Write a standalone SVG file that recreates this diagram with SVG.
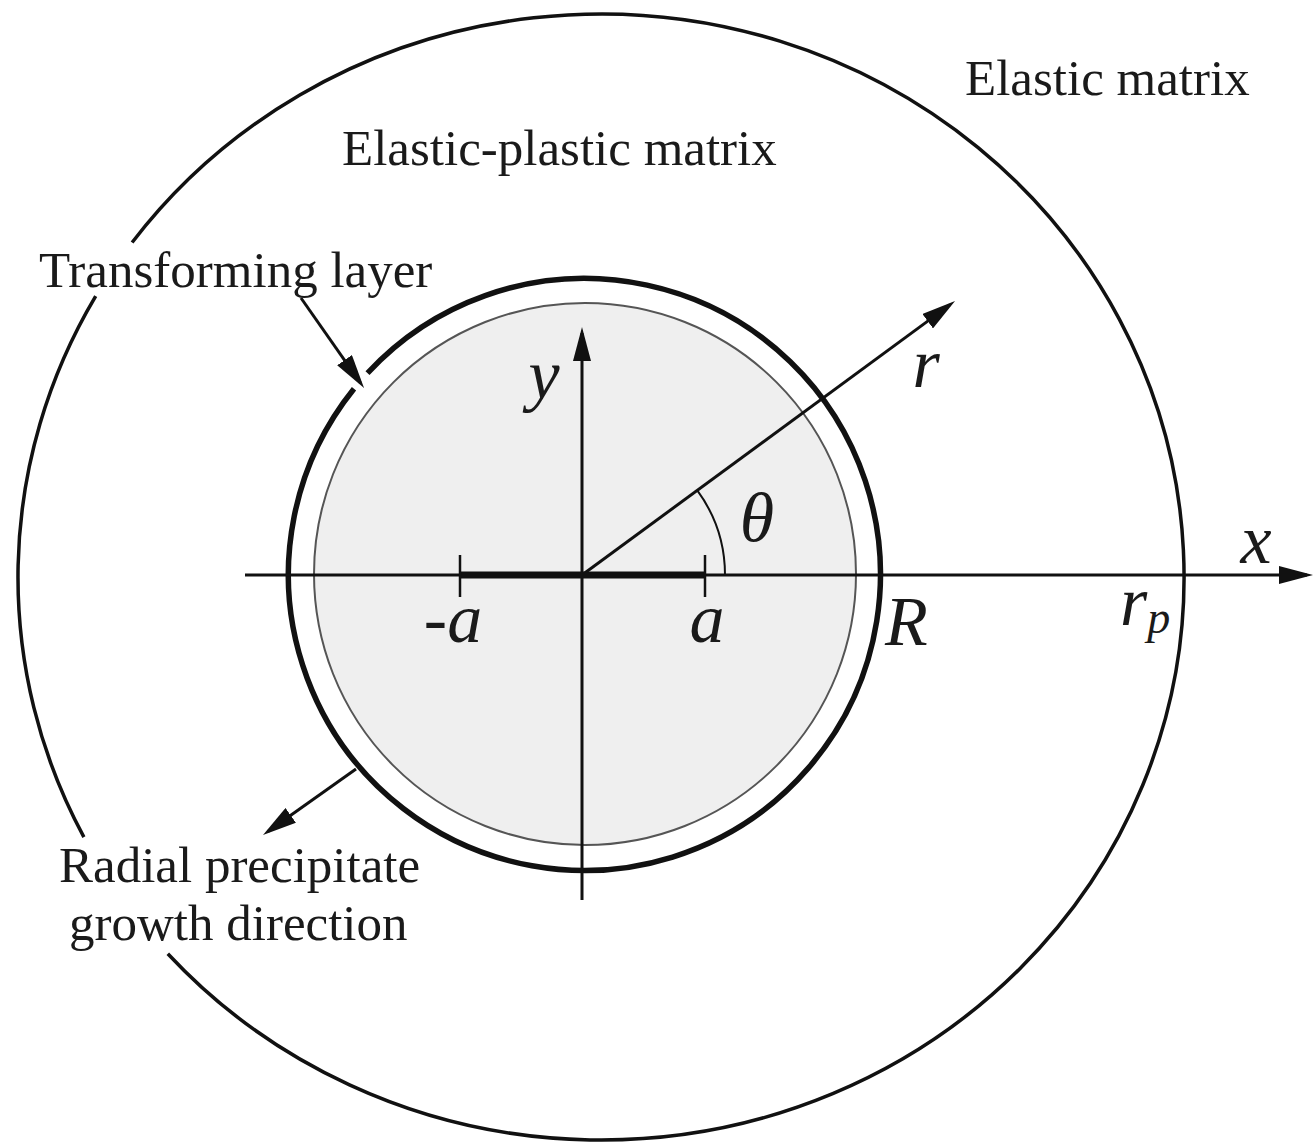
<svg xmlns="http://www.w3.org/2000/svg" width="1315" height="1148" viewBox="0 0 1315 1148">
<style>
.lbl{font-family:"Liberation Serif","Times New Roman",serif;font-size:51px;fill:#1a1a1a}
.math{font-family:"Liberation Serif","Times New Roman",serif;font-style:italic;font-size:70px;fill:#1a1a1a}
.ln{fill:none;stroke:#111;stroke-width:3}
.ring{fill:none;stroke:#111}
</style>
<defs>
<marker id="ah" viewBox="0 0 34 18" markerWidth="34" markerHeight="18" refX="28" refY="9" orient="auto" markerUnits="userSpaceOnUse">
<path d="M0,0 L34,9 L0,18 Z" fill="#111"/>
</marker>
</defs>
<rect width="1315" height="1148" fill="#fff"/>

<g id="elastic-plastic-boundary">
<path class="ring" stroke-width="3.5" d="M132.1,242.5 A583,563 0 1 1 167.8,953.7"/>
<path class="ring" stroke-width="3.5" d="M83.9,837.1 A583,563 0 0 1 95.7,296.2"/>
</g>

<g id="precipitate">
<circle cx="585" cy="574" r="271" fill="#efefef" stroke="#555" stroke-width="2"/>
</g>

<g id="transforming-layer">
<path class="ring" stroke-width="5.5" d="M367.5,373.1 A296,296 0 1 1 354.0,388.7"/>
</g>

<g id="connectors">
<line class="ln" x1="245" y1="575" x2="1307" y2="575" marker-end="url(#ah)"/>
<line class="ln" x1="582" y1="900" x2="582" y2="333" marker-end="url(#ah)"/>
<line class="ln" x1="582" y1="575" x2="950.2" y2="304.6" marker-end="url(#ah)"/>
<path d="M725,575 A143,143 0 0 0 697.1,490.2" fill="none" stroke="#111" stroke-width="2"/>
<line x1="460" y1="575" x2="705" y2="575" stroke="#111" stroke-width="7"/>
<line x1="460" y1="555" x2="460" y2="597" stroke="#111" stroke-width="2.5"/>
<line x1="705" y1="555" x2="705" y2="597" stroke="#111" stroke-width="2.5"/>
<line class="ln" x1="301" y1="298" x2="360.6" y2="383.1" marker-end="url(#ah)"/>
<line class="ln" x1="356" y1="769" x2="267.9" y2="831.5" marker-end="url(#ah)"/>
</g>

<g id="labels">
<text class="lbl" x="965" y="95">Elastic matrix</text>
<text class="lbl" x="342" y="165">Elastic-plastic matrix</text>
<text class="lbl" x="39" y="287">Transforming layer</text>
<text class="lbl" x="59" y="882">Radial precipitate</text>
<text class="lbl" x="69" y="940">growth direction</text>
<text class="math" x="544" y="398" text-anchor="middle">y</text>
<text class="math" x="926" y="387" text-anchor="middle">r</text>
<text class="math" x="757" y="541" text-anchor="middle">θ</text>
<text class="math" x="1256" y="563" text-anchor="middle">x</text>
<text class="math" x="453" y="642" text-anchor="middle">-a</text>
<text class="math" x="707" y="642" text-anchor="middle">a</text>
<text class="math" x="885" y="645">R</text>
<text class="math" x="1120" y="625">r<tspan font-size="46" dy="8">p</tspan></text>
</g>
</svg>
